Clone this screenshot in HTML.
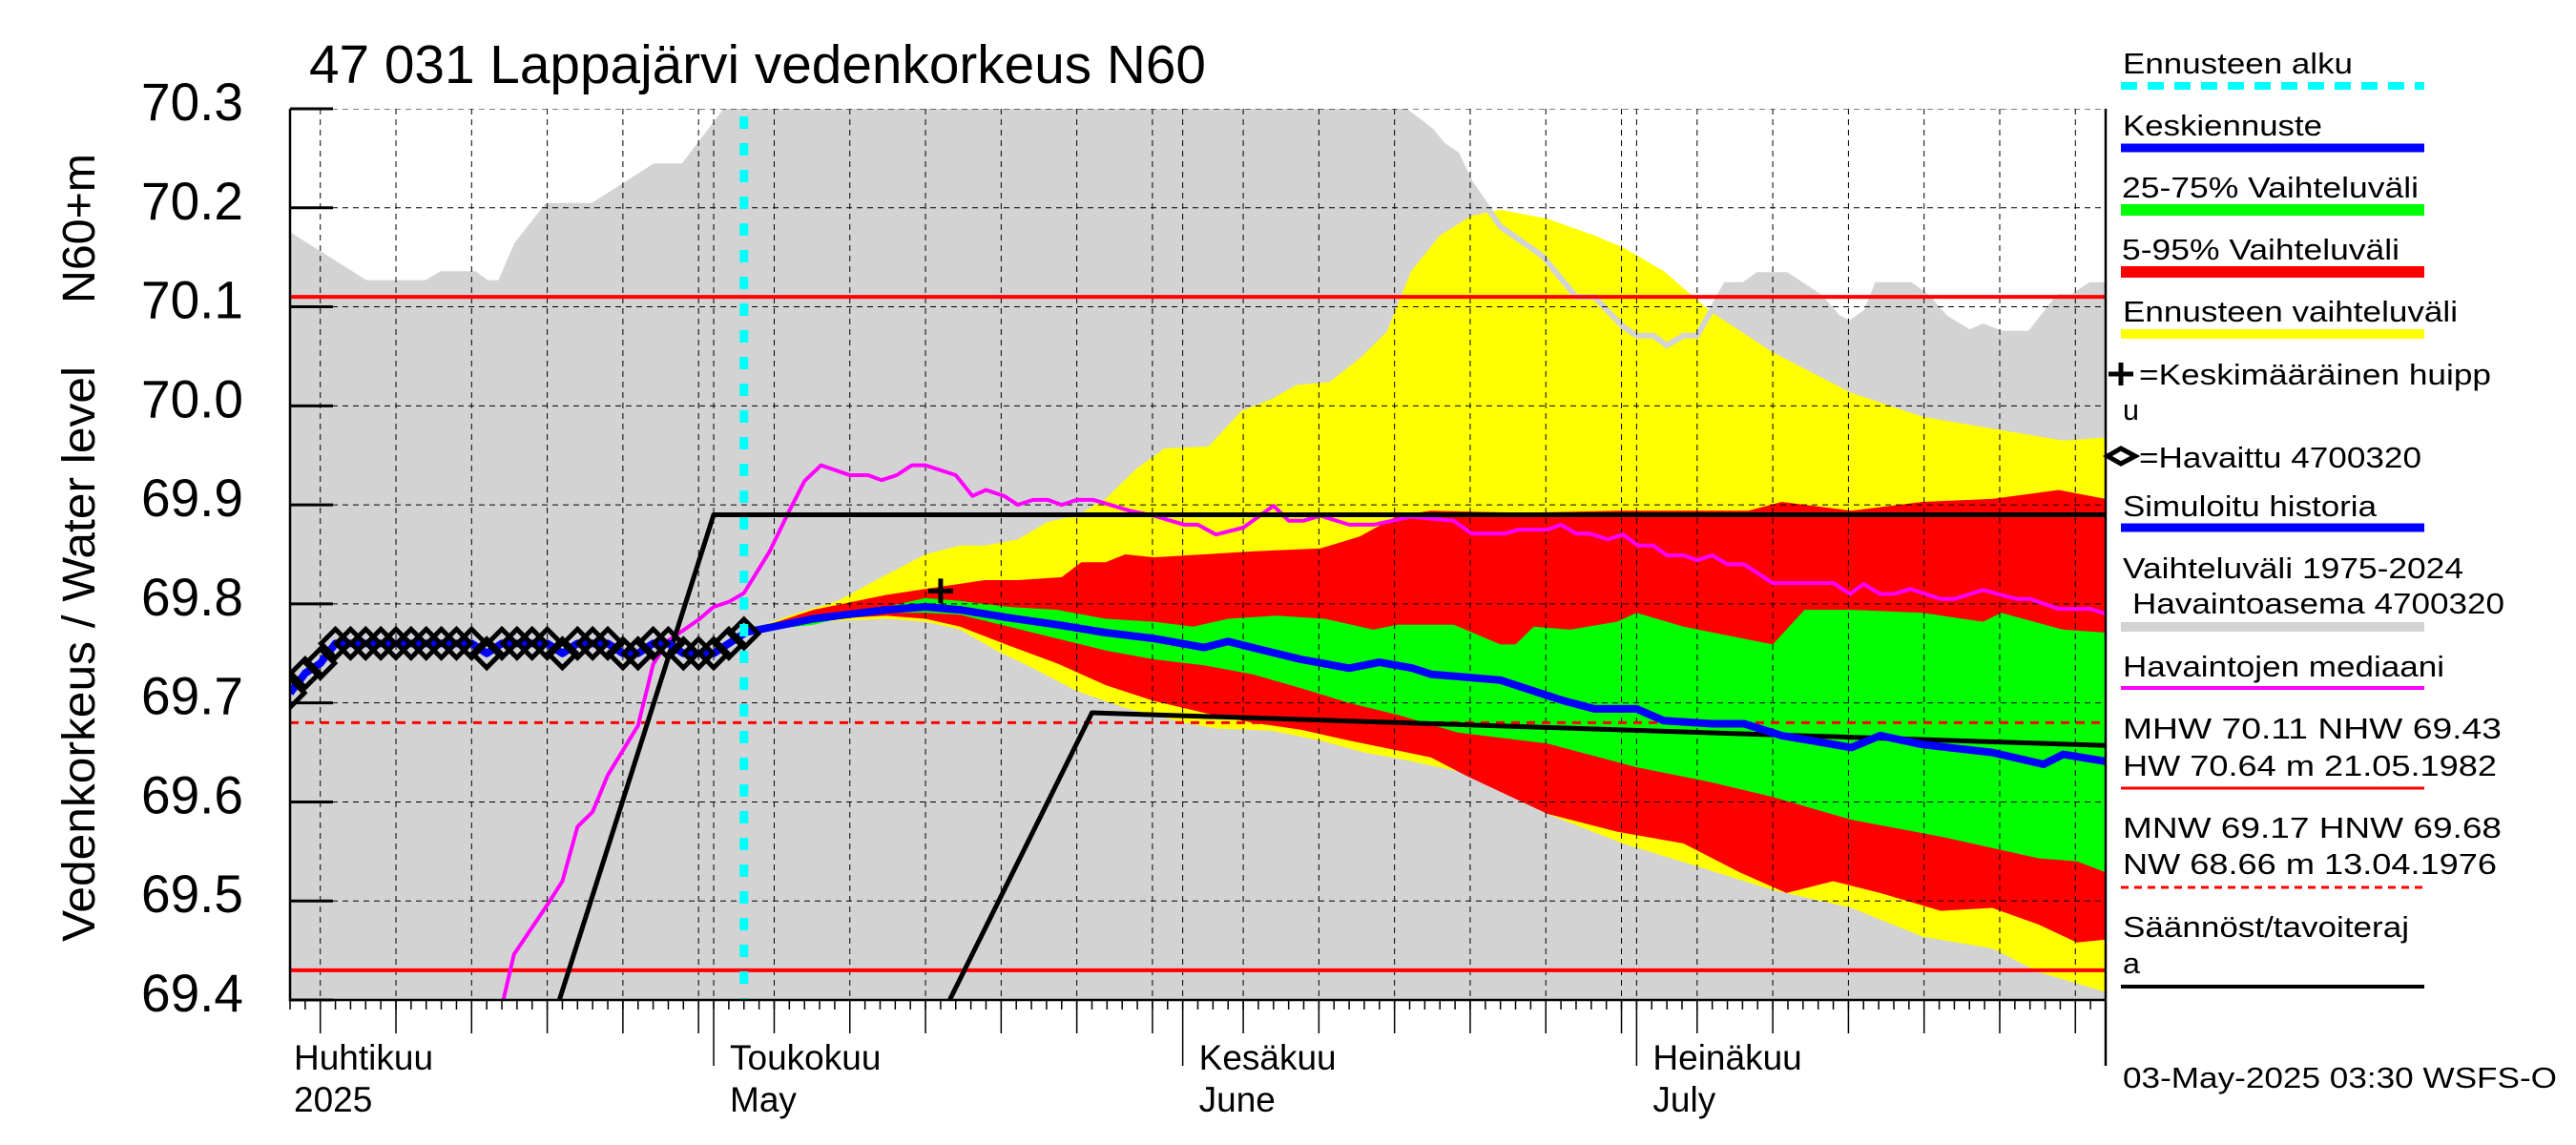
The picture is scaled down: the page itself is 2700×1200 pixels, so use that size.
<!DOCTYPE html>
<html><head><meta charset="utf-8"><style>html,body{margin:0;padding:0;background:#fff}svg{display:block}</style></head>
<body>
<svg id="chart" xmlns="http://www.w3.org/2000/svg" width="2700" height="1200" viewBox="0 0 2700 1200" font-family="'Liberation Sans', sans-serif">
<rect x="0" y="0" width="2700" height="1200" fill="#fff"/>
<defs><clipPath id="plotclip"><rect x="304" y="114" width="1903" height="934"/></clipPath></defs>
<g id="plot" clip-path="url(#plotclip)"></g>
<g id="axes"></g>
<text x="324" y="87" font-size="57" textLength="940" lengthAdjust="spacingAndGlyphs">47 031 Lappajärvi vedenkorkeus N60</text>
<text transform="translate(99,318) rotate(-90)" font-size="48" textLength="157" lengthAdjust="spacingAndGlyphs">N60+m</text>
<text transform="translate(99,987) rotate(-90)" font-size="48" textLength="603" lengthAdjust="spacingAndGlyphs">Vedenkorkeus / Water level</text>
<g id="legend" font-size="31"></g>
</svg>
<script>
const ticksY = [69.4,69.5,69.6,69.7,69.8,69.9,70.0,70.1,70.2,70.3];
const tickLabelsY = ["69.4","69.5","69.6","69.7","69.8","69.9","70.0","70.1","70.2","70.3"];
const monthDays = [-2,28,59,89];
const monthNamesFi = ["Huhtikuu","Toukokuu","Kesäkuu","Heinäkuu"];
const monthNamesEn = ["2025","May","June","July"];
const refLevels = [70.11,69.43];
const hnwLevel = [69.68];
const grayUpDays = [0,5,9,10,12.2,13,13.9,15,17,20,24.1,26,28.9,30,72,73.5,75.4,76.2,77.1,78,79.1,80,82.8,85,86.2,88.1,89,90.1,91,92.1,93,94.9,96.1,97,98.9,101.1,102.3,103.1,104.2,104.9,107.1,108.2,109.4,111,111.9,113.1,115,116.9,117.8,119,120];
const grayUpVals = [70.172,70.124,70.124,70.133,70.133,70.124,70.124,70.163,70.202,70.202,70.242,70.242,70.30,70.36,70.36,70.30,70.278,70.263,70.254,70.225,70.201,70.181,70.151,70.110,70.110,70.080,70.071,70.071,70.061,70.071,70.071,70.122,70.122,70.132,70.132,70.110,70.089,70.083,70.095,70.122,70.122,70.110,70.089,70.074,70.080,70.073,70.073,70.110,70.110,70.122,70.122];
const yelUpDays = [30,33,36.2,39.1,42,44.3,45.9,48.1,50.1,52,53.9,55.9,57.8,60.7,62.9,64.9,66.5,68.7,70.7,72.5,74.1,76,78.1,80,83.1,86.2,88.1,90.8,93.9,98,103.2,107.9,112.5,117.2,120];
const yelUpVals = [69.771,69.788,69.803,69.827,69.850,69.859,69.859,69.865,69.883,69.889,69.906,69.936,69.957,69.959,69.995,70.007,70.021,70.024,70.048,70.075,70.136,70.172,70.192,70.198,70.189,70.172,70.160,70.136,70.095,70.054,70.013,69.989,69.977,69.965,69.968];
const yelLoDays = [30,34.6,39.4,42,44.3,46.8,49.1,52,55.2,59.1,61.3,64.9,68.1,71,73.2,77.8,83.1,88.1,93,98,103.2,107.9,112.5,115.6,120];
const yelLoVals = [69.771,69.782,69.785,69.782,69.774,69.752,69.735,69.712,69.695,69.680,69.674,69.672,69.662,69.650,69.644,69.629,69.588,69.558,69.535,69.511,69.493,69.464,69.452,69.428,69.408];
const redUpDays = [30,34.6,39.4,42,45.9,48.1,51,52.3,53.9,55.2,57.1,60.4,63.6,68.1,70.7,73.2,75.4,81.5,87.8,96.4,98.6,103.2,107.9,112.5,116.9,120];
const redUpVals = [69.771,69.794,69.809,69.815,69.824,69.824,69.827,69.842,69.842,69.850,69.847,69.850,69.853,69.856,69.868,69.889,69.894,69.892,69.894,69.894,69.903,69.894,69.903,69.906,69.915,69.906];
const redLoDays = [30,34.6,39.4,42,44.3,47.5,50.7,53.9,57.1,60.4,63.6,66.8,70,73.2,75.4,77.8,83.1,87.7,92.1,95.8,98.9,102,105.1,109.1,112.5,115.6,118.1,120];
const redLoVals = [69.771,69.784,69.788,69.785,69.777,69.758,69.740,69.718,69.702,69.690,69.680,69.673,69.662,69.652,69.645,69.626,69.588,69.570,69.558,69.529,69.508,69.520,69.508,69.490,69.493,69.476,69.458,69.461];
const grnUpDays = [30,34.6,39.4,42,44.3,47.5,50.7,53.9,57.1,59.7,62,65.2,68.4,71.6,73.2,76.9,80,81,82.2,84.6,87.7,89,92.1,98,100.1,103.2,107.9,111.9,113.1,117.2,120];
const grnUpVals = [69.771,69.779,69.797,69.806,69.803,69.797,69.794,69.785,69.782,69.777,69.785,69.788,69.785,69.774,69.779,69.779,69.759,69.759,69.777,69.774,69.782,69.791,69.777,69.759,69.794,69.794,69.791,69.782,69.791,69.774,69.771];
const grnLoDays = [30,34.6,39.4,42,44.3,47.5,50.7,53.9,57.1,60.4,63.6,66.8,70,73.2,77.2,83.1,89,93.9,98,103.2,109.4,115.6,118.1,120];
const grnLoVals = [69.771,69.783,69.791,69.791,69.789,69.777,69.765,69.753,69.744,69.738,69.729,69.715,69.700,69.688,69.670,69.659,69.635,69.620,69.605,69.582,69.564,69.543,69.540,69.529];
const fcDays = [30,34.6,39.4,42,44.3,47.5,50.7,53.9,57.1,60.4,62,63.6,66.8,70,72,74.2,75.4,80,84,86.2,89,90.8,94,96.1,98.6,103.2,105.1,107.9,112.5,115.9,117.2,120];
const fcVals = [69.771,69.785,69.794,69.797,69.794,69.786,69.779,69.771,69.765,69.756,69.762,69.756,69.744,69.735,69.741,69.735,69.729,69.723,69.703,69.694,69.694,69.682,69.679,69.679,69.667,69.655,69.667,69.658,69.650,69.638,69.648,69.641];
const obsVals = [69.71,69.73,69.74,69.76,69.76,69.76,69.76,69.76,69.76,69.76,69.76,69.76,69.76,69.75,69.76,69.76,69.76,69.76,69.75,69.76,69.76,69.76,69.75,69.75,69.76,69.76,69.75,69.75,69.75,69.76,69.77];
const medDays = [14.1,14.8,17,18,19,20,21,23,24,25,27,28,29,30,31.7,33,34,35.1,37,38.2,39.1,40.1,41.1,42,44,45.1,46,47.2,48.1,49.1,50.1,51,52,53.1,54.2,55.5,57.1,59.1,60,61.2,63,65,66,67,68.1,70,71.6,74.1,76.9,78.1,80.3,81.2,83.1,84,85,85.9,87.1,88.1,89.1,90.1,91,92.1,93,94,95,96.1,98,102,103.1,104,105.1,106,107.1,109.1,110,111.9,114.1,115,116.9,119,120];
const medVals = [69.40,69.446,69.496,69.52,69.575,69.59,69.627,69.677,69.739,69.763,69.784,69.797,69.802,69.811,69.853,69.894,69.924,69.940,69.930,69.930,69.925,69.930,69.940,69.940,69.930,69.909,69.915,69.909,69.900,69.905,69.905,69.900,69.905,69.905,69.900,69.894,69.889,69.880,69.880,69.870,69.877,69.899,69.884,69.884,69.889,69.880,69.880,69.888,69.884,69.871,69.871,69.875,69.875,69.880,69.871,69.871,69.865,69.870,69.859,69.859,69.849,69.849,69.844,69.849,69.840,69.840,69.821,69.821,69.810,69.820,69.810,69.810,69.815,69.805,69.805,69.814,69.805,69.805,69.795,69.795,69.790];
const reg1Days = [17.8,28,120];
const reg1Vals = [69.4,69.89,69.89];
const reg2Days = [43.6,53,120];
const reg2Vals = [69.4,69.69,69.657];
const peakDay = [43];
const peakVal = [69.813];
const forecastStartDay = [30];

const X0=304, X1=2207, Y0=1048, Y1=114, DMAX=120, VMIN=69.4, VMAX=70.3;
function xs(d){return X0+(d/DMAX)*(X1-X0);}
function ys(v){return Y0-(v-VMIN)/(VMAX-VMIN)*(Y0-Y1);}
const NS="http://www.w3.org/2000/svg";
function mk(tag,attrs,parent){const e=document.createElementNS(NS,tag);for(const k in attrs)e.setAttribute(k,attrs[k]);parent.appendChild(e);return e;}
function pts(days,vals){return days.map((d,i)=>xs(d).toFixed(1)+","+ys(vals[i]).toFixed(1));}
const plot=document.getElementById('plot');
const axes=document.getElementById('axes');
const legend=document.getElementById('legend');

let e=mk('polygon',{points:pts(grayUpDays,grayUpVals).concat([xs(120)+","+(Y0+5),xs(0)+","+(Y0+5)]).join(" "),fill:"#d3d3d3"},plot);


function band(ud,uv,ld,lv,col,name){
  const p=pts(ud,uv).concat(pts(ld,lv).reverse());
  const el=mk('polygon',{points:p.join(" "),fill:col},plot);
  
  
}
band(yelUpDays,yelUpVals,yelLoDays,yelLoVals,"#ffff00","forecast-range-band");
band(redUpDays,redUpVals,redLoDays,redLoVals,"#ff0000","band-5-95");
band(grnUpDays,grnUpVals,grnLoDays,grnLoVals,"#00ff00","band-25-75");
e=mk('polyline',{points:pts(grayUpDays,grayUpVals).join(" "),fill:"none",stroke:"#d3d3d3","stroke-width":6},plot);



for(let i=0;i<ticksY.length;i++){
  const y=ys(ticksY[i]);
  e=mk('line',{x1:X0,x2:X1,y1:y,y2:y,stroke:"#000","stroke-width":1,"stroke-dasharray":"6,5"},plot);
  
  
}
const gridDays=[];
const monthLen=[30,31,30,31];
for(let m=0;m<4;m++){
  const start=monthDays[m];
  for(const dd of [1,5,10,15,20,25,30]){
    if(dd>monthLen[m])continue;
    const d=start+dd-1;
    if(d>0&&d<=DMAX)gridDays.push({d:d,first:dd===1});
  }
}
gridDays.push({d:120,first:true});
for(const g of gridDays){
  const x=xs(g.d);
  e=mk('line',{x1:x,x2:x,y1:Y1,y2:Y0,stroke:"#000","stroke-width":1,"stroke-dasharray":"6,5"},plot);
  
  
}

for(const v of refLevels){
  e=mk('line',{x1:X0,x2:X1,y1:ys(v),y2:ys(v),stroke:"#ff0000","stroke-width":4},plot);
  
  
}
e=mk('line',{x1:X0,x2:X1,y1:ys(hnwLevel[0]),y2:ys(hnwLevel[0]),stroke:"#ff0000","stroke-width":3,"stroke-dasharray":"9,7"},plot);



function line(days,vals,col,w,name){
  const el=mk('polyline',{points:pts(days,vals).join(" "),fill:"none",stroke:col,"stroke-width":w,"stroke-linejoin":"round"},plot);
  
  
}
line(medDays,medVals,"#ff00ff",4,"observed-median-line");
line(reg1Days,reg1Vals,"#000",5,"regulation-limit-upper");
line(reg2Days,reg2Vals,"#000",5,"regulation-limit-lower");
line(fcDays,fcVals,"#0000ff",8,"mean-forecast-line");
const obsDays=obsVals.map((v,i)=>i);
line(obsDays,obsVals,"#0000ff",8,"simulated-history-line");
for(let i=0;i<obsVals.length;i++){
  const x=xs(i),y=ys(obsVals[i]);
  e=mk('polygon',{points:`${x-15},${y} ${x},${y-15} ${x+15},${y} ${x},${y+15}`,fill:"none",stroke:"#000","stroke-width":5},plot);
  
  
}
{
  const x=xs(peakDay[0]),y=ys(peakVal[0]);
  e=mk('path',{d:`M${x-13},${y}H${x+13}M${x},${y-13}V${y+13}`,stroke:"#000","stroke-width":5},plot);
  
  
}
e=mk('line',{x1:xs(forecastStartDay[0]),x2:xs(forecastStartDay[0]),y1:Y1+8,y2:Y0,stroke:"#00ffff","stroke-width":9,"stroke-dasharray":"13,15"},plot);



e=mk('path',{d:`M${X0},${Y1}V${Y0}H${X1}M${X1},${Y1}V1117`,stroke:"#000","stroke-width":2.5,fill:"none"},axes);


for(let i=0;i<ticksY.length;i++){
  const y=ys(ticksY[i]);
  e=mk('line',{x1:X0,x2:X0+45,y1:y,y2:y,stroke:"#000","stroke-width":3},axes);
  
  
  e=mk('text',{x:255,y:y+12,"font-size":56,"text-anchor":"end",textLength:107,lengthAdjust:"spacingAndGlyphs"},axes);
  e.textContent=tickLabelsY[i];
  
  
}
for(let d=0;d<=DMAX;d++){
  const x=xs(d);
  e=mk('line',{x1:x,x2:x,y1:Y0,y2:Y0+10,stroke:"#000","stroke-width":1.5},axes);
  
  
}
for(const g of gridDays){
  const x=xs(g.d);
  e=mk('line',{x1:x,x2:x,y1:Y0,y2:g.first?1117:1083,stroke:"#000","stroke-width":1.5},axes);
  
  
}
for(let m=0;m<4;m++){
  const x=Math.max(xs(monthDays[m]),X0)+ (m===0?4:17);
  e=mk('text',{x:x,y:1121,"font-size":37},axes);
  e.textContent=monthNamesFi[m];
  
  
  e=mk('text',{x:x,y:1165,"font-size":37},axes);
  e.textContent=monthNamesEn[m];
  
  
}

function ltext(x,y,s,w,name){
  const t=mk('text',{x:x,y:y,textLength:w,lengthAdjust:"spacingAndGlyphs"},legend);
  t.textContent=s;
  
  
}
function lline(y,col,w,dash,name){
  const a={x1:2223,x2:2541,y1:y,y2:y,stroke:col,"stroke-width":w};
  if(dash)a["stroke-dasharray"]=dash;
  const l=mk('line',a,legend);
  
  
}
ltext(2225,77,"Ennusteen alku",241,"legend-forecast-start-label");
lline(90,"#00ffff",8,"17,11","legend-forecast-start-swatch");
ltext(2225,142,"Keskiennuste",209,"legend-mean-forecast-label");
lline(155,"#0000ff",9,null,"legend-mean-forecast-swatch");
ltext(2224,207,"25-75% Vaihteluväli",311,"legend-band-25-75-label");
lline(220,"#00ff00",12,null,"legend-band-25-75-swatch");
ltext(2224,272,"5-95% Vaihteluväli",291,"legend-band-5-95-label");
lline(285,"#ff0000",12,null,"legend-band-5-95-swatch");
ltext(2225,337,"Ennusteen vaihteluväli",351,"legend-forecast-range-label");
lline(350,"#ffff00",10,null,"legend-forecast-range-swatch");
e=mk('path',{d:"M2210,392H2236M2223,380V404",stroke:"#000","stroke-width":5},legend);


ltext(2242,403,"=Keskimääräinen huipp",369,"legend-peak-label");
ltext(2225,440,"u",17,"legend-peak-label-wrap");
e=mk('polygon',{points:"2209,478 2223,470 2238,478 2223,486",fill:"none",stroke:"#000","stroke-width":5},legend);


ltext(2242,490,"=Havaittu 4700320",296,"legend-observed-label");
ltext(2225,541,"Simuloitu historia",266,"legend-simulated-label");
lline(553,"#0000ff",9,null,"legend-simulated-swatch");
ltext(2225,606,"Vaihteluväli 1975-2024",357,"legend-historical-range-label");
ltext(2235,643,"Havaintoasema 4700320",390,"legend-historical-station-label");
lline(657,"#d3d3d3",10,null,"legend-historical-range-swatch");
ltext(2225,709,"Havaintojen mediaani",337,"legend-median-label");
lline(721,"#ff00ff",4,null,"legend-median-swatch");
ltext(2225,774,"MHW  70.11 NHW  69.43",397,"legend-mhw-label");
ltext(2225,813,"HW  70.64 m 21.05.1982",392,"legend-hw-label");
lline(826,"#ff0000",3,null,"legend-hw-swatch");
ltext(2225,878,"MNW  69.17 HNW  69.68",397,"legend-mnw-label");
ltext(2225,916,"NW  68.66 m 13.04.1976",392,"legend-nw-label");
lline(930,"#ff0000",3,"8,6","legend-nw-swatch");
ltext(2225,982,"Säännöst/tavoiteraj",300,"legend-regulation-label");
ltext(2225,1020,"a",18,"legend-regulation-label-wrap");
lline(1034,"#000",4,null,"legend-regulation-swatch");
ltext(2225,1140,"03-May-2025 03:30 WSFS-O",455,"timestamp");
</script>
</body></html>
